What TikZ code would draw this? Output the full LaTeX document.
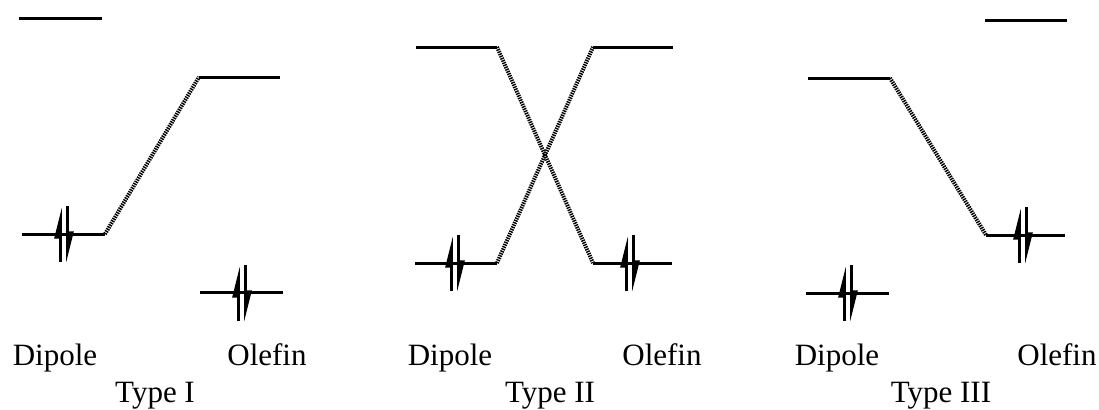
\documentclass[tikz,border=0pt]{standalone}
\usepackage{fontspec}
\setmainfont{Liberation Serif}
\usetikzlibrary{arrows.meta}

\begin{document}
\begin{tikzpicture}[x=0.5pt,y=-0.5pt,
 level/.style={line width=1.5pt},
 corr/.style={line width=2pt,dash pattern=on .7pt off .5pt},
 spin/.style={line width=1.3pt,-{Triangle[left,length=13pt,width=6pt]}},
 lbl/.style={anchor=base,inner sep=0pt,font=\fontsize{15.5}{18}\selectfont}
]
\useasboundingbox (0,0) rectangle (1099,409);
% Type I
\coordinate (dl1a) at (19,18);   \coordinate (dl1b) at (102,18);
\coordinate (dh1a) at (22,234);  \coordinate (dh1b) at (105,234);
\coordinate (ol1a) at (199,77);  \coordinate (ol1b) at (280,77);
\coordinate (oh1a) at (200,292); \coordinate (oh1b) at (283,292);
% Type II
\coordinate (dl2a) at (416,47);  \coordinate (dl2b) at (497,47);
\coordinate (dh2a) at (415,263); \coordinate (dh2b) at (497,263);
\coordinate (ol2a) at (593,47);  \coordinate (ol2b) at (673,47);
\coordinate (oh2a) at (593,263); \coordinate (oh2b) at (672,263);
% Type III
\coordinate (dl3a) at (808,78);  \coordinate (dl3b) at (890,78);
\coordinate (dh3a) at (806,293); \coordinate (dh3b) at (889,293);
\coordinate (ol3a) at (985,20);  \coordinate (ol3b) at (1067,20);
\coordinate (oh3a) at (986,235); \coordinate (oh3b) at (1065,235);

\foreach \n in {dl1,dh1,ol1,oh1,dl2,dh2,ol2,oh2,dl3,dh3,ol3,oh3}
  \draw[level] (\n a)--(\n b);

\draw[corr] (dh1b)--(ol1a);
\draw[corr] (dl2b)--(oh2a);
\draw[corr] (dh2b)--(ol2a);
\draw[corr] (dl3b)--(oh3a);

% electron pairs
\foreach \x/\y in {64/234,242/293,455/263,630/263,848/293,1023/235}{
  \draw[spin] (\x-3.5,\y+28)--(\x-3.5,\y-27);
  \draw[spin] (\x+3.5,\y-28)--(\x+3.5,\y+29);
}

\node[lbl] (dip1) at (55,365) {Dipole};
\node[lbl] (ole1) at (267,365) {Olefin};
\node[lbl] (typ1) at (155,402) {Type I};
\node[lbl] (dip2) at (450,365) {Dipole};
\node[lbl] (ole2) at (662,365) {Olefin};
\node[lbl] (typ2) at (550,402) {Type II};
\node[lbl] (dip3) at (837,365) {Dipole};
\node[lbl] (ole3) at (1057,365) {Olefin};
\node[lbl] (typ3) at (941,402) {Type III};
\end{tikzpicture}
\end{document}
